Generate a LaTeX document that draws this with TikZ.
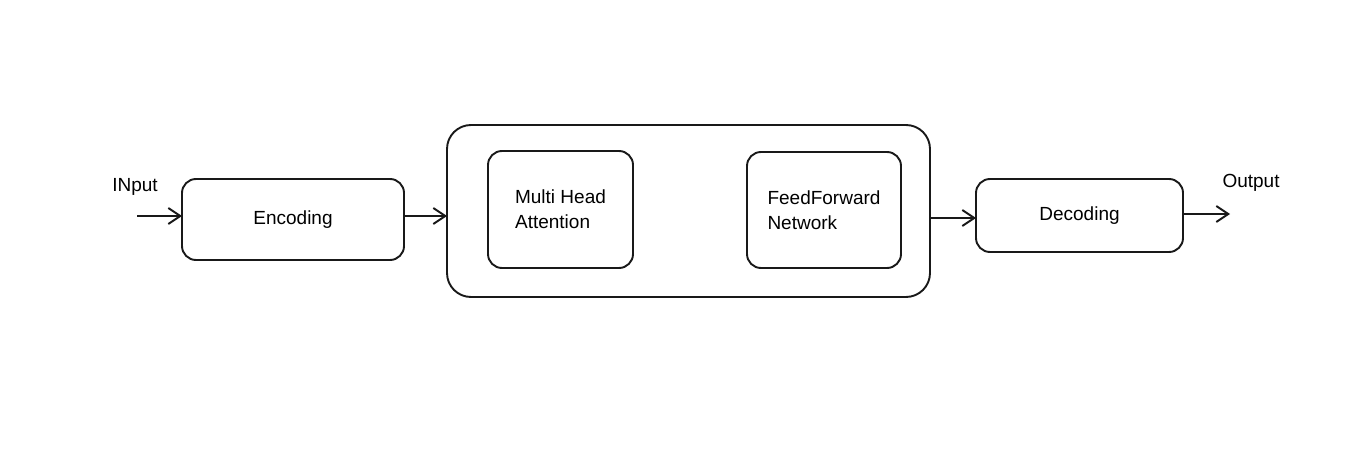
\documentclass[tikz,border=0pt]{standalone}
\usepackage{fontspec}
\setmainfont{Liberation Sans}
\usetikzlibrary{arrows.meta}
\begin{document}
\begin{tikzpicture}[x=1pt,y=-1pt,
  box/.style={draw=black!90, line width=1.9pt, rounded corners=14pt, inner sep=0pt, outer sep=0pt, align=left, font=\fontsize{19}{25}\selectfont},
  bigbox/.style={draw=black!90, line width=1.9pt, rounded corners=24pt, inner sep=0pt, outer sep=0pt},
  lbl/.style={font=\fontsize{19}{22}\selectfont, inner sep=0pt},
  conn/.style={line width=1.9pt, draw=black!90, -{Straight Barb[length=12pt,width=16pt,line width=1.9pt]}}]
\useasboundingbox (0,0) rectangle (1364,476);
\fill[white] (0,0) rectangle (1364,476);
\node[bigbox, minimum width=483pt, minimum height=172pt] (big) at (688.5,211) {};
\node[box, minimum width=222pt, minimum height=81pt] (enc) at (293,219.5) {Encoding};
\node[box, minimum width=145pt, minimum height=117pt] (mha) at (560.5,209.5) {Multi Head\\Attention};
\node[box, minimum width=154pt, minimum height=116pt] (ffn) at (824,210) {FeedForward\\Network};
\node[box, minimum width=207pt, minimum height=73pt] (dec) at (1079.5,215.5) {Decoding};
\coordinate (in) at (137,216);
\coordinate (out) at (1230,214);
\node[lbl] (inl) at (135,187) {INput};
\node[lbl] (outl) at (1251,183) {Output};
\draw[conn] (in) -- (in -| enc.west);
\draw[conn] (enc.east |- in) -- (big.west |- in);
\draw[conn] (big.east |- 0,218) -- (dec.west |- 0,218);
\draw[conn] (dec.east |- out) -- (out);
\end{tikzpicture}
\end{document}
